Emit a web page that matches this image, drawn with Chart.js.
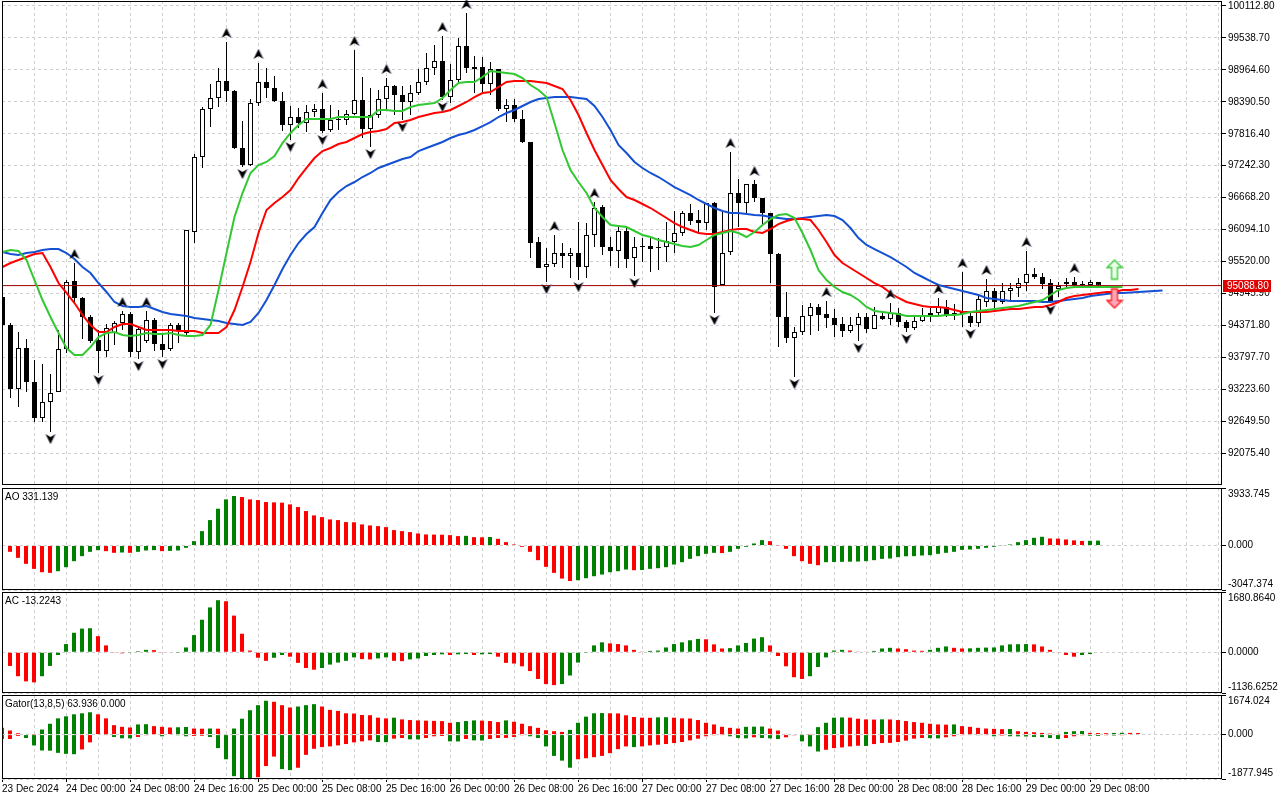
<!DOCTYPE html>
<html>
<head>
<meta charset="utf-8">
<script src="https://cdn.jsdelivr.net/npm/chart.js@4.4.1/dist/chart.umd.min.js"></script>
<style>
  html, body { margin: 0; padding: 0; background: #fff; }
  #wrap { position: relative; width: 1280px; height: 800px; overflow: hidden; background: #fff; }
  #wrap canvas { position: absolute; left: 0; }
</style>
</head>
<body>
<div id="wrap">
  <canvas id="main" width="1280" height="487" style="top:0px"></canvas>
  <canvas id="ao" width="1280" height="104" style="top:487px"></canvas>
  <canvas id="ac" width="1280" height="103" style="top:591px"></canvas>
  <canvas id="gator" width="1280" height="106" style="top:694px"></canvas>
</div>
<script>
// BTCUSD H1, 23 Dec 16:00 .. 29 Dec 09:00 — one entry per bar
const opens = [
  94884, 94381, 93230, 93967, 93356, 92709, 92997, 93177, 93949, 95171,
  94866, 94524, 94111, 93913, 94237, 94417, 94578, 93895, 94093, 94471,
  94039, 93949, 94381, 94237, 96052, 97399, 98262, 98459, 98765, 98585,
  97561, 97256, 98370, 98747, 98639, 98406, 97974, 98118, 98010, 98208,
  98262, 97885, 98064, 98064, 98172, 98424, 97903, 98154, 98441, 98675,
  98513, 98388, 98549, 98747, 98999, 99125, 98477, 98783, 99394, 99017,
  99017, 98711, 98981, 98262, 98334, 98082, 97669, 95872, 95423, 95477,
  95674, 95620, 95674, 95423, 95998, 96501, 95782, 95710, 96070, 95585,
  95782, 95800, 95782, 95782, 95872, 96034, 96393, 96267, 96213, 96573,
  95100, 95692, 96752, 96573, 96914, 96663, 96393, 95656, 94524, 94147,
  94255, 94542, 94704, 94578, 94506, 94399, 94273, 94381, 94524, 94309,
  94542, 94488, 94596, 94435, 94327, 94453, 94560, 94596, 94704, 94560,
  94614, 94542, 94417, 94794, 94992, 94794, 94992, 95046, 95135, 95297,
  95243, 95135, 95028, 95117, 95153, 95117, 95100, 95153
];
const highs = [
  94920, 94417, 94255, 94129, 93752, 93680, 93500, 94291, 95189, 95495,
  94884, 94560, 94291, 94399, 94453, 94632, 94614, 94345, 94632, 94506,
  94201, 94417, 94417, 96088, 97453, 98298, 98711, 98999, 99466, 98603,
  98046, 98441, 99089, 98999, 98855, 98567, 98316, 98280, 98334, 98352,
  98549, 98334, 98244, 98244, 99322, 98837, 98639, 98603, 98819, 98693,
  98675, 98693, 98981, 99268, 99412, 99574, 99071, 99538, 99987, 99215,
  99197, 99107, 98981, 98441, 98441, 98244, 97669, 95962, 95764, 95998,
  95854, 95764, 96231, 96213, 96591, 96537, 95962, 96141, 96123, 95962,
  95944, 95962, 95944, 96231, 96429, 96429, 96555, 96447, 96573, 96591,
  96411, 97489, 97004, 96914, 96986, 96663, 96393, 95674, 94974, 94345,
  94740, 94776, 94758, 94812, 94668, 94524, 94524, 94596, 94596, 94704,
  94596, 94776, 94686, 94471, 94560, 94686, 94686, 94866, 94830, 94758,
  95333, 94614, 94920, 95207, 95046, 95135, 95135, 95225, 95710, 95405,
  95315, 95207, 95153, 95225, 95243, 95171, 95189, 95153
];
const lows = [
  94327, 93069, 92907, 93177, 92638, 92638, 92458, 93177, 93877, 94776,
  94129, 94057, 93518, 93805, 94021, 94291, 93805, 93769, 94057, 93913,
  93805, 93913, 94057, 94201, 95854, 97202, 97938, 98298, 98388, 97543,
  97220, 97238, 98316, 98459, 98388, 97867, 97705, 97920, 97849, 98118,
  97831, 97849, 97885, 97974, 98154, 97741, 97579, 98100, 98244, 98154,
  98064, 98154, 98513, 98693, 98873, 98424, 98370, 98747, 98909, 98549,
  98549, 98513, 98226, 98028, 98028, 97651, 95584, 95405, 95153, 95423,
  95405, 95225, 95189, 95225, 95782, 95638, 95441, 95405, 95405, 95261,
  95513, 95333, 95369, 95513, 95674, 95980, 96177, 96034, 96088, 94596,
  95100, 95638, 96141, 96393, 96591, 96177, 95135, 93985, 94057, 93446,
  94201, 94201, 94273, 94327, 94165, 94165, 94237, 94093, 94237, 94309,
  94471, 94381, 94345, 94255, 94291, 94435, 94435, 94542, 94524, 94471,
  94345, 94345, 94345, 94704, 94650, 94758, 94794, 94884, 94992, 95207,
  95028, 94776, 94884, 95064, 95046, 95064, 95064, 95082
];
const closes = [
  94381, 93230, 93967, 93356, 92709, 92997, 93159, 93949, 95153, 94866,
  94524, 94093, 93913, 94327, 94417, 94578, 93895, 94309, 94471, 94039,
  93931, 94381, 94291, 96088, 97399, 98262, 98459, 98765, 98585, 97561,
  97256, 98370, 98747, 98639, 98406, 97974, 98118, 98010, 98208, 98262,
  97867, 98064, 98082, 98172, 98424, 97903, 98154, 98441, 98675, 98513,
  98388, 98549, 98747, 98999, 99125, 98477, 98783, 99394, 98999, 98981,
  98711, 98981, 98262, 98334, 98082, 97669, 95854, 95405, 95477, 95674,
  95620, 95674, 95423, 95998, 96483, 95782, 95710, 96070, 95567, 95782,
  95800, 95746, 95764, 95890, 96034, 96393, 96249, 96213, 96573, 95064,
  95674, 96752, 96573, 96914, 96663, 96393, 95656, 94524, 94147, 94255,
  94542, 94704, 94560, 94506, 94381, 94273, 94381, 94524, 94309, 94560,
  94488, 94596, 94435, 94327, 94453, 94542, 94596, 94704, 94560, 94596,
  94578, 94417, 94848, 94992, 94794, 94992, 95046, 95135, 95297, 95243,
  95117, 94812, 95082, 95153, 95100, 95099, 95153, 95088.80
];

// Alligator (13,8,5), shifted forward 8 / 5 / 3 bars
const jaw = [
  95692, 95656, 95638, 95674, 95692, 95728, 95746, 95746, 95674, 95566,
  95423, 95315, 95135, 94974, 94794, 94722, 94704, 94704, 94722, 94668,
  94614, 94578, 94560, 94542, 94506, 94488, 94471, 94453, 94417, 94399,
  94381, 94435, 94596, 94830, 95100, 95387, 95638, 95854, 96016, 96141,
  96393, 96627, 96770, 96878, 96950, 97040, 97112, 97202, 97256, 97310,
  97363, 97399, 97507, 97561, 97615, 97669, 97741, 97795, 97831, 97885,
  97956, 98028, 98118, 98190, 98244, 98316, 98388, 98441, 98459, 98477,
  98477, 98477, 98459, 98441, 98316, 98118, 97885, 97615, 97471, 97310,
  97202, 97112, 97040, 96950, 96860, 96788, 96716, 96627, 96555, 96483,
  96429, 96393, 96393, 96375, 96357, 96348, 96321, 96303, 96285, 96285,
  96303, 96321, 96339, 96357, 96339, 96267, 96123, 95944, 95818, 95746,
  95674, 95602, 95513, 95423, 95315, 95243, 95171, 95100, 95064, 95028,
  94992, 94956, 94920, 94866, 94848, 94830, 94812, 94812, 94812, 94812,
  94794, 94794, 94812, 94830, 94848, 94866, 94902, 94920, 94938, 94956,
  94956, 94965, 94974, 94983, 94992, 95001
];
const teeth = [
  95423, 95495, 95549, 95602, 95656, 95674, 95423, 95135, 94956, 94776,
  94560, 94381, 94255, 94255, 94345, 94399, 94399, 94345, 94291, 94291,
  94291, 94291, 94273, 94273, 94273, 94237, 94237, 94237, 94345, 94650,
  95064, 95513, 96034, 96447, 96573, 96680, 96806, 97022, 97202, 97381,
  97507, 97561, 97633, 97669, 97741, 97813, 97849, 97867, 97903, 98010,
  98028, 98064, 98118, 98154, 98190, 98208, 98244, 98316, 98388, 98477,
  98549, 98567, 98657, 98747, 98765, 98765, 98765, 98747, 98729, 98675,
  98621, 98424, 98154, 97831, 97525, 97256, 96986, 96824, 96680, 96627,
  96555, 96483, 96393, 96303, 96213, 96141, 96088, 96034, 96016, 96016,
  96052, 96088, 96106, 96106, 96052, 96034, 96106, 96195, 96249, 96285,
  96285, 96267, 96088, 95872, 95638, 95495, 95405, 95315, 95225, 95135,
  95064, 94956, 94866, 94794, 94758, 94722, 94704, 94704, 94686, 94650,
  94614, 94614, 94614, 94614, 94632, 94650, 94668, 94668, 94686, 94704,
  94704, 94740, 94794, 94866, 94902, 94920, 94938, 94956, 94974, 94974,
  95010, 95010, 95028
];
const lips = [
  95692, 95728, 95710, 95549, 95189, 94830, 94524, 94237, 93967, 93841,
  93841, 93985, 94165, 94237, 94255, 94201, 94183, 94201, 94237, 94219,
  94219, 94237, 94201, 94183, 94183, 94201, 94381, 95010, 95674, 96321,
  96752, 97112, 97256, 97310, 97418, 97651, 97831, 97974, 98082, 98082,
  98082, 98082, 98118, 98118, 98118, 98118, 98118, 98244, 98244, 98226,
  98226, 98298, 98334, 98352, 98370, 98459, 98603, 98729, 98747, 98747,
  98837, 98945, 98927, 98909, 98891, 98819, 98693, 98603, 98477, 98010,
  97525, 97166, 96950, 96752, 96483, 96321, 96177, 96159, 96141, 96070,
  95998, 95962, 95908, 95872, 95836, 95800, 95782, 95818, 95908, 95998,
  96034, 96070, 96034, 95962, 96052, 96177, 96285, 96357, 96375, 96303,
  96034, 95728, 95369, 95189, 95064, 94974, 94920, 94830, 94704, 94632,
  94614, 94596, 94578, 94542, 94542, 94542, 94542, 94542, 94560, 94560,
  94578, 94614, 94632, 94650, 94668, 94686, 94704, 94722, 94758, 94794,
  94830, 94920, 95010, 95046, 95064, 95064, 95064, 95064, 95064, 95064,
  95064
];

// bar indexes carrying a fractal
const fractalUp = [9, 15, 18, 28, 32, 40, 44, 48, 55, 58, 69, 74, 91, 94, 103, 111, 117, 120, 123, 128, 134];
const fractalDown = [6, 12, 17, 20, 30, 36, 40, 46, 50, 55, 68, 72, 79, 89, 99, 107, 113, 121, 131];

// the two hollow signal arrows at the right end: [bar index, price]
const signalUp = [[139, 95378]];
const signalDown = [[139, 94857]];

// Awesome Oscillator
const aoValues = [
  null, -435, -846, -1258, -1601, -1830, -1875, -1761, -1487, -1075,
  -732, -435, -320, -389, -503, -480, -503, -435, -343, -320,
  -389, -370, -343, -160, 297, 983, 1738, 2516, 3156, 3385,
  3316, 3156, 3110, 2973, 2950, 2930, 2813, 2630, 2356, 2058,
  1944, 1784, 1738, 1601, 1590, 1441, 1372, 1326, 1258, 1052,
  983, 915, 823, 755, 745, 735, 709, 640, 660, 572,
  560, 580, 457, 229, 69, -91, -435, -1006, -1464, -1875,
  -2264, -2430, -2378, -2241, -2104, -1990, -1830, -1761, -1647, -1692,
  -1680, -1601, -1555, -1487, -1304, -1144, -915, -732, -572, -503,
  -520, -435, -229, -91, 137, 366, 297, -20, -229, -732,
  -1075, -1258, -1349, -1144, -1130, -1120, -1110, -1100, -1075, -1006,
  -915, -892, -800, -740, -732, -686, -663, -572, -503, -435,
  -300, -274, -229, -160, -91, 20, 69, 229, 366, 526,
  595, 480, 470, 412, 350, 310, 320, 331.139
];
// Accelerator Oscillator
const acValues = [
  null, -382, -669, -812, -840, -669, -382, -76, 229, 544,
  659, 670, 449, 191, -19, -29, -20, 29, 67, 60,
  -10, -15, -5, 134, 478, 907, 1251, 1452, 1423, 1022,
  516, 48, -153, -239, -153, -76, -124, -296, -439, -487,
  -439, -344, -287, -239, -143, -191, -200, -172, -143, -239,
  -248, -200, -172, -105, -76, -57, -76, -57, -48, -76,
  -57, -48, -124, -296, -315, -392, -525, -745, -888, -917,
  -888, -649, -287, -5, 191, 277, 248, 229, 191, 67,
  19, 38, 48, 134, 229, 277, 334, 372, 362, 220,
  105, 115, 191, 258, 382, 420, 191, -105, -392, -697,
  -745, -669, -411, -143, 48, 67, 48, 19, 10, 38,
  105, 124, 105, 86, 48, 40, 67, 124, 162, 124,
  105, 110, 124, 130, 134, 191, 220, 225, 229, 220,
  162, 67, -10, -76, -124, -76, -48, -13.2243
];
// Gator Oscillator: upper = |jaw - teeth|, lower = -|teeth - lips|
const gatorUpper = [
  286, 172, 57, 20, 10, 215, 458, 686, 772, 858,
  901, 944, 858, 686, 400, 329, 300, 429, 440, 358,
  329, 300, 310, 320, 257, 250, 257, 250, 20, 257,
  672, 1030, 1244, 1430, 1387, 1244, 1144, 1187, 1244, 1287,
  1187, 1044, 1001, 901, 890, 829, 820, 715, 686, 715,
  643, 615, 600, 590, 580, 570, 500, 529, 572, 600,
  590, 572, 529, 600, 543, 458, 358, 286, 186, 143,
  114, 200, 500, 758, 901, 910, 901, 895, 815, 744,
  715, 710, 729, 735, 715, 686, 680, 615, 500, 429,
  329, 286, 257, 329, 335, 340, 257, 172, 29, 20,
  25, 10, 315, 500, 715, 725, 715, 672, 643, 635,
  645, 640, 615, 572, 529, 500, 458, 429, 420, 430,
  358, 329, 286, 257, 243, 229, 235, 143, 114, 100,
  72, 43, 29, 114, 143, 150, 72, 64, 60, 70,
  75, 72, 63.936
];
const gatorLower = [
  -186, -186, -57, -143, -458, -672, -680, -772, -815, -830,
  -629, -329, -20, -10, -100, -157, -160, -100, -29, -20,
  -72, -20, -30, -72, -60, -50, -100, -572, -1044, -1759,
  -1860, -1877.945, -1802, -1330, -930, -1459, -1502, -1401, -858, -601,
  -529, -500, -458, -400, -329, -286, -243, -315, -320, -172,
  -143, -200, -205, -143, -72, -60, -286, -290, -186, -243,
  -250, -186, -143, -140, -100, -29, -72, -143, -500, -901,
  -1101, -1400, -1044, -1001, -958, -901, -786, -615, -500, -529,
  -500, -458, -429, -400, -358, -315, -243, -172, -72, -29,
  -10, -72, -143, -157, -114, -143, -160, -186, -114, -30,
  -286, -500, -715, -643, -572, -543, -500, -472, -480, -400,
  -358, -350, -315, -257, -172, -143, -150, -160, -114, -72,
  -29, -15, -29, -15, -72, -40, -72, -75, -80, -100,
  -105, -143, -186, -143, -72, -30, -50, -55, -29, -40,
  -30
];

// axis labels
const priceTicks = [100112.80, 99538.70, 98964.60, 98390.50, 97816.40, 97242.30, 96668.20, 96094.10,
  95520.00, 94945.90, 94371.80, 93797.70, 93223.60, 92649.50, 92075.40];
const priceRange = [91505.8, 100202.6];
const aoAxis = [3933.745, 0, -3047.374];
const acAxis = [1680.8640, 0, -1136.6252];
const gatorAxis = [1674.024, 0, -1877.945];
const timeLabels = ['23 Dec 2024', '24 Dec 00:00', '24 Dec 08:00', '24 Dec 16:00', '25 Dec 00:00', '25 Dec 08:00',
  '25 Dec 16:00', '26 Dec 00:00', '26 Dec 08:00', '26 Dec 16:00', '27 Dec 00:00', '27 Dec 08:00', '27 Dec 16:00',
  '28 Dec 00:00', '28 Dec 08:00', '28 Dec 16:00', '29 Dec 00:00', '29 Dec 08:00'];

const FONT = { family: "'Liberation Sans', Arial, sans-serif", size: 10 };
const GRID = '#cfcfcf';
const HIST_UP = '#008000';
const HIST_DOWN = '#ff0000';
const BARS_SHOWN = 152.5;

const gridIndex = [];
for (let i = 0; i <= 152; i += 4) gridIndex.push(i);

// frame round each panel
const framePlugin = {
  id: 'frame',
  afterDraw(chart) {
    const { ctx, chartArea: a } = chart;
    ctx.save();
    ctx.strokeStyle = '#000';
    ctx.lineWidth = 1;
    const l = Math.round(a.left), t = Math.round(a.top);
    ctx.strokeRect(l + 0.5, t + 0.5, Math.round(a.right) - l - 1, Math.round(a.bottom) - t - 1);
    ctx.restore();
  }
};

const titlePlugin = {
  id: 'panelTitle',
  afterDraw(chart, args, opts) {
    if (!opts.text) return;
    const { ctx, chartArea: a } = chart;
    ctx.save();
    ctx.font = `${FONT.size}px ${FONT.family}`;
    ctx.fillStyle = '#000';
    ctx.textBaseline = 'top';
    ctx.fillText(opts.text, a.left + 3, a.top + 4);
    ctx.restore();
  }
};

// red last-price tag on the price scale
const tagPlugin = {
  id: 'priceTag',
  afterDraw(chart, args, opts) {
    if (opts.value == null) return;
    const { ctx, chartArea: a } = chart;
    const y = Math.round(chart.scales.y.getPixelForValue(opts.value));
    ctx.save();
    ctx.fillStyle = '#e00000';
    ctx.fillRect(a.right + 1, y - 6, 48, 12);
    ctx.fillStyle = '#fff';
    ctx.font = `${FONT.size}px ${FONT.family}`;
    ctx.textBaseline = 'middle';
    ctx.fillText(opts.value.toFixed(2), a.right + 5, y + 0.5);
    ctx.restore();
  }
};

function fractalGlyph(up) {
  const c = document.createElement('canvas');
  c.width = 12; c.height = 32;
  const g = c.getContext('2d');
  g.translate(6, up ? 16 - 9 : 16 + 7);
  if (!up) g.scale(1, -1);
  g.beginPath();
  g.moveTo(0, -5); g.lineTo(5, 5); g.lineTo(0, 2); g.lineTo(-5, 5);
  g.closePath();
  g.fillStyle = '#000';
  g.fill();
  g.strokeStyle = '#9aa4c8';
  g.lineWidth = 0.8;
  g.beginPath(); g.moveTo(0.5, -4.5); g.lineTo(5, 5); g.stroke();
  return c;
}

function blockArrow(up, stroke, fill) {
  const c = document.createElement('canvas');
  c.width = 18; c.height = 22;
  const g = c.getContext('2d');
  g.translate(9, 11);
  if (!up) g.scale(1, -1);
  g.beginPath();
  g.moveTo(0, -9.5); g.lineTo(7.5, -2); g.lineTo(3, -2); g.lineTo(3, 9.5);
  g.lineTo(-3, 9.5); g.lineTo(-3, -2); g.lineTo(-7.5, -2);
  g.closePath();
  g.fillStyle = fill; g.fill();
  g.lineWidth = 1.3; g.strokeStyle = stroke; g.stroke();
  return c;
}

function growColors(values, firstColor) {
  return values.map((v, i) => {
    if (i === 0 || values[i - 1] == null) return firstColor;
    return Math.abs(v) > Math.abs(values[i - 1]) ? HIST_UP : HIST_DOWN;
  });
}
function riseColors(values) {
  return values.map((v, i) => (i > 0 && values[i - 1] != null && v > values[i - 1]) ? HIST_UP : HIST_DOWN);
}

function axisLabel(decimals, axis) {
  return (v) => {
    const s = v.toFixed(decimals);
    if (v === axis[0]) return ['', s];
    if (v === axis[axis.length - 1]) return [s, ''];
    return s;
  };
}

function makeChart(id, cfg) {
  const xTicks = cfg.xLabels ? {
    display: true, autoSkip: false, maxRotation: 0, minRotation: 0, align: 'start', padding: 1,
    color: '#000', font: FONT,
    callback: (v) => (v % 8 === 0 && v / 8 < timeLabels.length) ? timeLabels[v / 8] : ''
  } : { display: false };
  return new Chart(document.getElementById(id), {
    type: 'bar',
    data: { datasets: cfg.datasets },
    options: {
      responsive: false,
      animation: false,
      events: [],
      devicePixelRatio: 1,
      layout: { padding: cfg.padding, autoPadding: false },
      plugins: {
        legend: { display: false },
        tooltip: { enabled: false },
        panelTitle: { text: cfg.title || '' },
        priceTag: { value: cfg.tag == null ? null : cfg.tag }
      },
      scales: {
        x: {
          type: 'linear',
          min: cfg.xMin,
          max: cfg.xMin + BARS_SHOWN,
          offset: false,
          afterBuildTicks: (s) => { s.ticks = gridIndex.map(v => ({ value: v })); },
          afterFit: (s) => {
            s.height = cfg.xHeight;
            s.paddingLeft = 0; s.paddingRight = 0; s.paddingTop = 0; s.paddingBottom = 0;
          },
          ticks: xTicks,
          grid: {
            color: GRID, offset: false, drawTicks: !!cfg.xLabels, tickLength: 3,
            tickColor: (ctx) => (ctx.tick && ctx.tick.value % 8 === 0 && ctx.tick.value / 8 < timeLabels.length) ? '#000' : 'rgba(0,0,0,0)'
          },
          border: { display: false, dash: [3, 3] }
        },
        y: {
          position: 'right',
          min: cfg.yMin,
          max: cfg.yMax,
          afterBuildTicks: (s) => { s.ticks = cfg.yTicks.map(v => ({ value: v })); },
          afterFit: (s) => {
            s.width = 58;
            s.paddingLeft = 0; s.paddingRight = 0; s.paddingTop = 0; s.paddingBottom = 0;
          },
          ticks: { autoSkip: false, color: '#000', font: FONT, padding: 2, callback: cfg.yFormat },
          grid: { color: GRID, tickColor: '#000', tickLength: 4 },
          border: { display: false, dash: [3, 3] }
        }
      }
    },
    plugins: [framePlugin, titlePlugin, tagPlugin]
  });
}

// ---- price panel ----
const lastClose = closes[closes.length - 1];
const bodyColors = closes.map((c, i) => c >= opens[i] ? '#ffffff' : '#000000');
const mainX0 = -0.0625;

makeChart('main', {
  padding: { left: 2, top: 1, right: 0, bottom: 2 },
  xMin: mainX0, xHeight: 0,
  yMin: priceRange[0], yMax: priceRange[1], yTicks: priceTicks,
  yFormat: (v) => v.toFixed(2),
  tag: lastClose,
  datasets: [
    { type: 'scatter', data: fractalUp.map(i => ({ x: i, y: highs[i] })), pointStyle: fractalGlyph(true), pointRadius: 5, order: 0, clip: false },
    { type: 'scatter', data: fractalDown.map(i => ({ x: i, y: lows[i] })), pointStyle: fractalGlyph(false), pointRadius: 5, order: 0, clip: false },
    { type: 'scatter', data: signalUp.map(s => ({ x: s[0], y: s[1] })), pointStyle: blockArrow(true, '#3cc83c', '#eaffea'), pointRadius: 5, order: 0 },
    { type: 'scatter', data: signalDown.map(s => ({ x: s[0], y: s[1] })), pointStyle: blockArrow(false, '#ff1e1e', '#ffa8bc'), pointRadius: 5, order: 0 },
    { type: 'line', data: lips.map((v, i) => ({ x: i, y: v })), borderColor: '#32c832', borderWidth: 2, pointRadius: 0, tension: 0, order: 1 },
    { type: 'line', data: teeth.map((v, i) => ({ x: i, y: v })), borderColor: '#ff0000', borderWidth: 2, pointRadius: 0, tension: 0, order: 2 },
    { type: 'line', data: jaw.map((v, i) => ({ x: i, y: v })), borderColor: '#1450d2', borderWidth: 2, pointRadius: 0, tension: 0, order: 3 },
    { type: 'line', data: [{ x: mainX0, y: lastClose }, { x: mainX0 + BARS_SHOWN, y: lastClose }], borderColor: '#a00000', borderWidth: 1, pointRadius: 0, order: 4 },
    {
      type: 'bar', data: opens.map((o, i) => ({ x: i, y: [o, closes[i]] })),
      backgroundColor: bodyColors, borderColor: '#000', borderWidth: 1, borderSkipped: false,
      barThickness: 5, grouped: false, inflateAmount: 0, order: 5
    },
    {
      type: 'bar', data: lows.map((l, i) => ({ x: i, y: [l, highs[i]] })),
      backgroundColor: '#000', barThickness: 1, grouped: false, inflateAmount: 0, order: 6
    }
  ]
});

// ---- AO ----
makeChart('ao', {
  padding: { left: 2, top: 1, right: 0, bottom: 1 },
  xMin: 0, xHeight: 0,
  yMin: aoAxis[2], yMax: aoAxis[0], yTicks: aoAxis,
  yFormat: axisLabel(3, aoAxis),
  title: 'AO ' + aoValues[aoValues.length - 1].toFixed(3),
  datasets: [{
    type: 'bar', data: aoValues.map((v, i) => ({ x: i, y: v })),
    backgroundColor: riseColors(aoValues), barThickness: 4, grouped: false, inflateAmount: 0
  }]
});

// ---- AC ----
makeChart('ac', {
  padding: { left: 2, top: 1, right: 0, bottom: 1 },
  xMin: 0, xHeight: 0,
  yMin: acAxis[2], yMax: acAxis[0], yTicks: acAxis,
  yFormat: axisLabel(4, acAxis),
  title: 'AC ' + acValues[acValues.length - 1].toFixed(4),
  datasets: [{
    type: 'bar', data: acValues.map((v, i) => ({ x: i, y: v })),
    backgroundColor: riseColors(acValues), barThickness: 4, grouped: false, inflateAmount: 0
  }]
});

// ---- Gator ----
makeChart('gator', {
  padding: { left: 2, top: 1, right: 0, bottom: 0 },
  xMin: 0, xHeight: 21, xLabels: true,
  yMin: gatorAxis[2], yMax: gatorAxis[0], yTicks: gatorAxis,
  yFormat: axisLabel(3, gatorAxis),
  title: 'Gator(13,8,5) ' + gatorUpper[gatorUpper.length - 1].toFixed(3) + ' 0.000',
  datasets: [
    {
      type: 'bar', data: gatorUpper.map((v, i) => ({ x: i, y: v })),
      backgroundColor: growColors(gatorUpper, HIST_DOWN), barThickness: 4, grouped: false, inflateAmount: 0
    },
    {
      type: 'bar', data: gatorLower.map((v, i) => ({ x: i, y: v })),
      backgroundColor: growColors(gatorLower, HIST_UP), barThickness: 4, grouped: false, inflateAmount: 0
    }
  ]
});
</script>
</body>
</html>
